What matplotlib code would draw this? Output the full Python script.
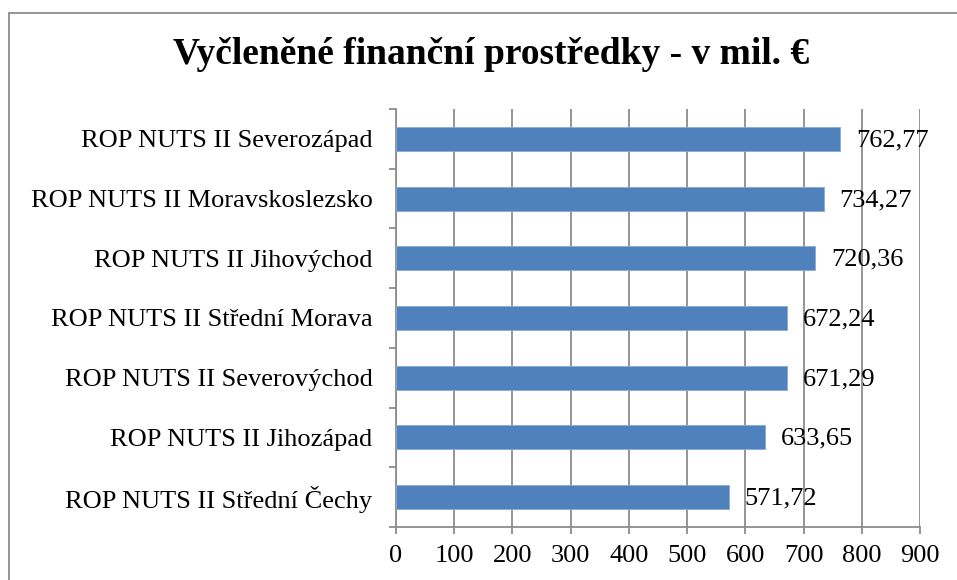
import matplotlib
matplotlib.use('Agg')
import matplotlib.pyplot as plt
from matplotlib.patches import Rectangle
import numpy as np

# data (zdola nahoru)
categories = ['ROP NUTS II Střední Čechy', 'ROP NUTS II Jihozápad',
              'ROP NUTS II Severovýchod', 'ROP NUTS II Střední Morava',
              'ROP NUTS II Jihovýchod', 'ROP NUTS II Moravskoslezsko',
              'ROP NUTS II Severozápad']
values = [571.72, 633.65, 671.29, 672.24, 720.36, 734.27, 762.77]
x_ticks = [0, 100, 200, 300, 400, 500, 600, 700, 800, 900]
title = 'Vyčleněné finanční prostředky - v mil. €'

plt.rcParams['font.family'] = ['Liberation Serif', 'DejaVu Serif']

W, H = 957, 580
fig = plt.figure(figsize=(W / 100, H / 100), dpi=100)
ax = fig.add_axes([396 / W, 1 - 527 / H, (920 - 396) / W, (527 - 109) / H])

# ramecek grafu
fig.patches.append(Rectangle((9 / W, -0.1), 1.2, 1.1 - 13 / H, transform=fig.transFigure,
                             fill=False, edgecolor='#8c8c8c', linewidth=1.3))

y = np.arange(len(categories))
ax.barh(y, values, height=0.4, color='#4F81BD', edgecolor='#8aaad4', linewidth=0.6, zorder=3)

for yi, v in zip(y, values):
    ax.annotate(f'{v:.2f}'.replace('.', ','), (v, yi), xytext=(11.5, -1),
                textcoords='offset points', va='center', ha='left',
                fontsize=19, zorder=4)

ax.set_xlim(0, 900)
ax.set_ylim(-0.5, len(categories) - 0.5)
ax.set_xticks(x_ticks)
ax.set_xticklabels([str(t) for t in x_ticks], fontsize=19)
ax.set_yticks(y)
ax.set_yticklabels(categories, fontsize=19)
ax.set_yticks(np.arange(-0.5, len(categories)), minor=True)

ax.grid(axis='x', color='#8c8c8c', linewidth=1.3, zorder=0)
for s in ['top', 'right']:
    ax.spines[s].set_visible(False)
for s in ['left', 'bottom']:
    ax.spines[s].set_color('#8c8c8c')
    ax.spines[s].set_linewidth(1.3)

ax.tick_params(axis='y', which='major', length=0, pad=17)
ax.tick_params(axis='y', which='minor', length=5, width=1.3, color='#8c8c8c')
ax.tick_params(axis='x', length=5, width=1.3, color='#8c8c8c', pad=8)

fig.text(491 / W, 1 - 55 / H, title, ha='center', va='center',
         fontsize=27, fontweight='bold')

fig.savefig('out.png', dpi=100)
